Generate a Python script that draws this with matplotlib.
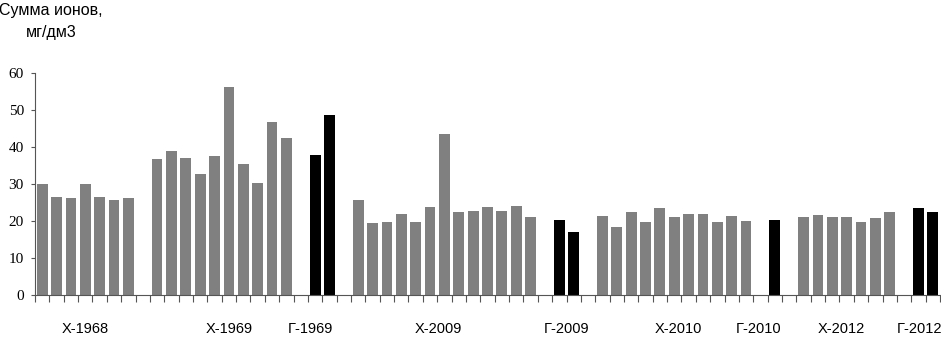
import numpy as np
import matplotlib
matplotlib.use('Agg')
import matplotlib.pyplot as plt
import matplotlib.transforms as mtransforms

# Group names and values (mg/dm3)
group_names = ['Х-1968', 'Х-1969', 'Г-1969', 'Х-2009', 'Г-2009',
               'Х-2010', 'Г-2010', 'Х-2012', 'Г-2012']
x1968 = [30.0, 26.6, 26.2, 30.0, 26.4, 25.8, 26.2]
x1969 = [36.8, 38.8, 37.1, 32.6, 37.6, 56.2, 35.3, 30.4, 46.7, 42.3]
g1969 = [37.8, 48.7]
x2009 = [25.8, 19.5, 19.8, 21.9, 19.6, 23.7, 43.6, 22.4, 22.6, 23.8, 22.6, 24.0, 21.0]
g2009 = [20.4, 17.0]
x2010 = [21.3, 18.4, 22.4, 19.7, 23.6, 21.2, 21.8, 21.8, 19.7, 21.3, 20.1]
g2010 = [20.2]
x2012 = [21.0, 21.5, 21.0, 21.0, 19.7, 20.8, 22.3]
g2012 = [23.5, 22.5]

groups = [x1968, x1969, g1969, x2009, g2009, x2010, g2010, x2012, g2012]

# build slot positions: one empty slot between groups
xs, vals, cols = [], [], []
centers = []
pos = 0
for name, g in zip(group_names, groups):
    color = '#000000' if name.startswith('Г') else '#808080'
    start = pos
    for v in g:
        xs.append(pos)
        vals.append(v)
        cols.append(color)
        pos += 1
    centers.append((start + pos - 1) / 2)
    pos += 1
n_slots = pos - 1

# label shifts (in slots) relative to group centre, as drawn in the original
label_shift = [0, 0.5, -0.85, -0.4, 0, 0.3, -1.1, -0.4, -0.4]

plt.rcParams['font.family'] = ['Liberation Sans', 'DejaVu Sans']

fig = plt.figure(figsize=(9.41, 3.37), dpi=100)
ax = fig.add_axes([35 / 941, 1 - 295 / 337, 905 / 941, 222 / 337])

ax.bar(xs, vals, width=0.75, color=cols, edgecolor='none')

ax.set_xlim(-0.5, n_slots - 0.5)
ax.set_ylim(0, 60)
ax.set_yticks(np.arange(0, 61, 10))
for lbl in ax.get_yticklabels():
    lbl.set_fontfamily('Liberation Serif')
    lbl.set_fontsize(11)
ax.set_xticks(np.arange(-0.5, n_slots, 1))
ax.set_xticklabels([])
ax.tick_params(axis='x', direction='out', length=5, width=0.8, color='#555555')
ax.tick_params(axis='y', direction='out', length=3, width=0.8, color='#555555', pad=5)

for s in ['top', 'right']:
    ax.spines[s].set_visible(False)
for s in ['left', 'bottom']:
    ax.spines[s].set_color('#555555')
    ax.spines[s].set_linewidth(0.8)

trans = mtransforms.blended_transform_factory(ax.transData, ax.transAxes)
for name, c, sh in zip(group_names, centers, label_shift):
    ax.text(c + sh, -0.153, name, transform=trans, ha='center', va='center',
            fontsize=10.5)

# axis title, two centred lines in the top-left corner
fig.text(51 / 941, 1 - 11 / 337, 'Сумма ионов,', ha='center', va='center', fontsize=11.5)
fig.text(51 / 941, 1 - 32 / 337, 'мг/дм3', ha='center', va='center', fontsize=11.5)

fig.savefig('out.png', dpi=100)
